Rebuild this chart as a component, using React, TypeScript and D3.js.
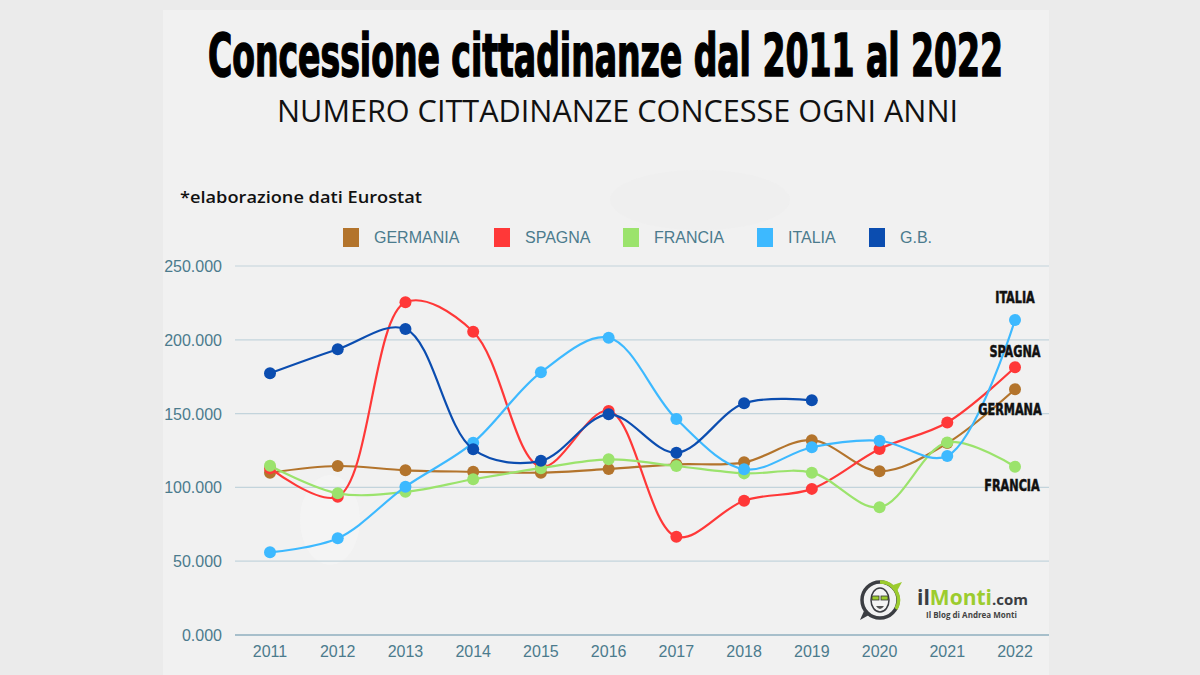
import React from "react";
import * as d3 from "d3";

const years = ["2011","2012","2013","2014","2015","2016","2017","2018","2019","2020","2021","2022"];
const germania = [110000,114500,111600,110600,110000,112500,115600,117000,132000,111000,130000,166500];
const spagna = [113000,93700,225400,205500,114000,151800,66600,91000,99000,126000,144000,181400];
const francia = [114700,96000,97000,105500,113000,119000,114500,109500,110000,86500,130500,114000];
const italia = [56000,65500,100500,130300,178000,201400,146300,112300,127200,131600,121300,213400];
const gb: (number | null)[] = [177300,193600,207300,125800,118000,149500,123500,157000,159000,null,null,null];
const yTicks = [0,50000,100000,150000,200000,250000];

const seriesNames = ["GERMANIA","SPAGNA","FRANCIA","ITALIA","G.B."];
const seriesColors = ["#b3742c","#ff3838","#9be36c","#3db9ff","#0b4db0"];
const seriesValues: (number | null)[][] = [germania, spagna, francia, italia, gb];

const endLabels = [
  { text: "ITALIA", x: 1015, y: 303 },
  { text: "SPAGNA", x: 1015, y: 357 },
  { text: "GERMANA", x: 1010, y: 415 },
  { text: "FRANCIA", x: 1012, y: 491 },
];

const tickLabel = (v: number) => (v === 0 ? "0.000" : `${v / 1000}.000`);

export default function App() {
  const x = d3.scalePoint<string>().domain(years).range([270, 1015]);
  const y = d3.scaleLinear().domain([0, 250000]).range([635, 266]);
  const line = d3
    .line<number | null>()
    .defined((d) => d !== null)
    .x((_, i) => x(years[i]) as number)
    .y((d) => y(d as number))
    .curve(d3.curveCatmullRom.alpha(0.5));

  const legendX = [343, 494, 623, 757, 869];
  const axisColor = "#4b7b8d";

  return (
    <svg
      width={1200}
      height={675}
      style={{ position: "absolute", left: 0, top: 0 }}
      xmlns="http://www.w3.org/2000/svg"
    >
      <rect x={0} y={0} width={1200} height={675} fill="#ebebeb" />
      <rect x={163} y={10} width={886} height={665} fill="#f1f1f1" />
      <ellipse cx={330} cy={520} rx={30} ry={45} fill="#f5f5f5" opacity={0.7} />
      <ellipse cx={700} cy={200} rx={90} ry={30} fill="#eeeeee" opacity={0.7} />

      {/* Title */}
      <text
        x={208}
        y={76}
        textLength={795}
        lengthAdjust="spacingAndGlyphs"
        fontFamily="'DejaVu Sans Condensed', 'DejaVu Sans', sans-serif"
        fontWeight={700}
        fontSize={58}
        fill="#000"
        stroke="#000"
        strokeWidth={1.5}
      >
        Concessione cittadinanze dal 2011 al 2022
      </text>
      <text
        x={277}
        y={122}
        textLength={681}
        lengthAdjust="spacingAndGlyphs"
        fontFamily="'Liberation Sans Narrow', 'Open Sans', sans-serif"
        fontWeight={400}
        fontSize={31}
        fill="#111"
      >
        NUMERO CITTADINANZE CONCESSE OGNI ANNI
      </text>
      <text
        x={180}
        y={203}
        textLength={242}
        lengthAdjust="spacingAndGlyphs"
        fontFamily="'Open Sans', sans-serif"
        fontWeight={600}
        fontSize={16}
        fill="#111"
      >
        *elaborazione dati Eurostat
      </text>

      {/* Legend */}
      {seriesNames.map((n, i) => (
        <g key={n}>
          <rect x={legendX[i]} y={228} width={16} height={19} fill={seriesColors[i]} />
          <text
            x={legendX[i] + 31}
            y={243}
            fontFamily="'Liberation Sans', Arial, sans-serif"
            fontSize={16}
            fill={axisColor}
          >
            {n}
          </text>
        </g>
      ))}

      {/* Grid */}
      {yTicks.map((t) => (
        <g key={t}>
          <line
            x1={235}
            x2={1049}
            y1={y(t)}
            y2={y(t)}
            stroke={t === 0 ? "#a7bfcb" : "#c3d4dc"}
            strokeWidth={t === 0 ? 2 : 1.2}
          />
          <text
            x={222}
            y={y(t) + 6}
            textAnchor="end"
            fontFamily="'Liberation Sans', Arial, sans-serif"
            fontSize={16}
            fill={axisColor}
          >
            {tickLabel(t)}
          </text>
        </g>
      ))}
      {years.map((yr) => (
        <text
          key={yr}
          x={x(yr)}
          y={657}
          textAnchor="middle"
          fontFamily="'Liberation Sans', Arial, sans-serif"
          fontSize={16}
          fill={axisColor}
        >
          {yr}
        </text>
      ))}

      {/* Logo */}
      <g>
        <circle cx={880} cy={600} r={18} fill="none" stroke="#3b3d42" strokeWidth={3.5} />
        <path d="M 880 582 A 18 18 0 0 1 896 609" fill="none" stroke="#9ccc2e" strokeWidth={3.5} />
        <path d="M 893 585 L 902 582 L 897 591 Z" fill="#9ccc2e" />
        <path d="M 864 611 L 860 620 L 869 615 Z" fill="#3b3d42" />
        <ellipse cx={880} cy={600} rx={9} ry={12} fill="#f4f4f4" stroke="#3b3d42" strokeWidth={1.5} />
        <rect x={872} y={596} width={7} height={4} fill="#9ccc2e" stroke="#333" strokeWidth={0.8} />
        <rect x={881} y={596} width={7} height={4} fill="#9ccc2e" stroke="#333" strokeWidth={0.8} />
        <path d="M 876 606 Q 880 612 884 606" fill="#555" />
        <text x={917} y={605} fontFamily="'Open Sans', sans-serif" fontWeight={700} fontSize={21}>
          <tspan fill="#3b3d42">il</tspan>
          <tspan fill="#9ccc2e">Monti</tspan>
          <tspan fill="#3b3d42" fontSize={15}>.com</tspan>
        </text>
        <text x={926} y={618} fontFamily="'Open Sans', sans-serif" fontWeight={700} fontSize={8} fill="#444">
          Il Blog di Andrea Monti
        </text>
      </g>

      {/* Series */}
      {seriesValues.map((vals, si) => (
        <g key={seriesNames[si]}>
          <path d={line(vals) || ""} fill="none" stroke={seriesColors[si]} strokeWidth={2.2} />
          {vals.map((v, i) =>
            v === null ? null : (
              <circle key={i} cx={x(years[i])} cy={y(v)} r={6} fill={seriesColors[si]} />
            )
          )}
        </g>
      ))}

      {/* End labels */}
      {endLabels.map((l) => (
        <text
          key={l.text}
          x={l.x}
          y={l.y}
          textAnchor="middle"
          fontFamily="'DejaVu Sans Condensed', 'DejaVu Sans', sans-serif"
          fontWeight={700}
          fontSize={16}
          transform={`translate(${l.x},0) scale(0.78,1) translate(${-l.x},0)`}
          fill="#111"
          stroke="#111"
          strokeWidth={0.5}
        >
          {l.text}
        </text>
      ))}
    </svg>
  );
}
